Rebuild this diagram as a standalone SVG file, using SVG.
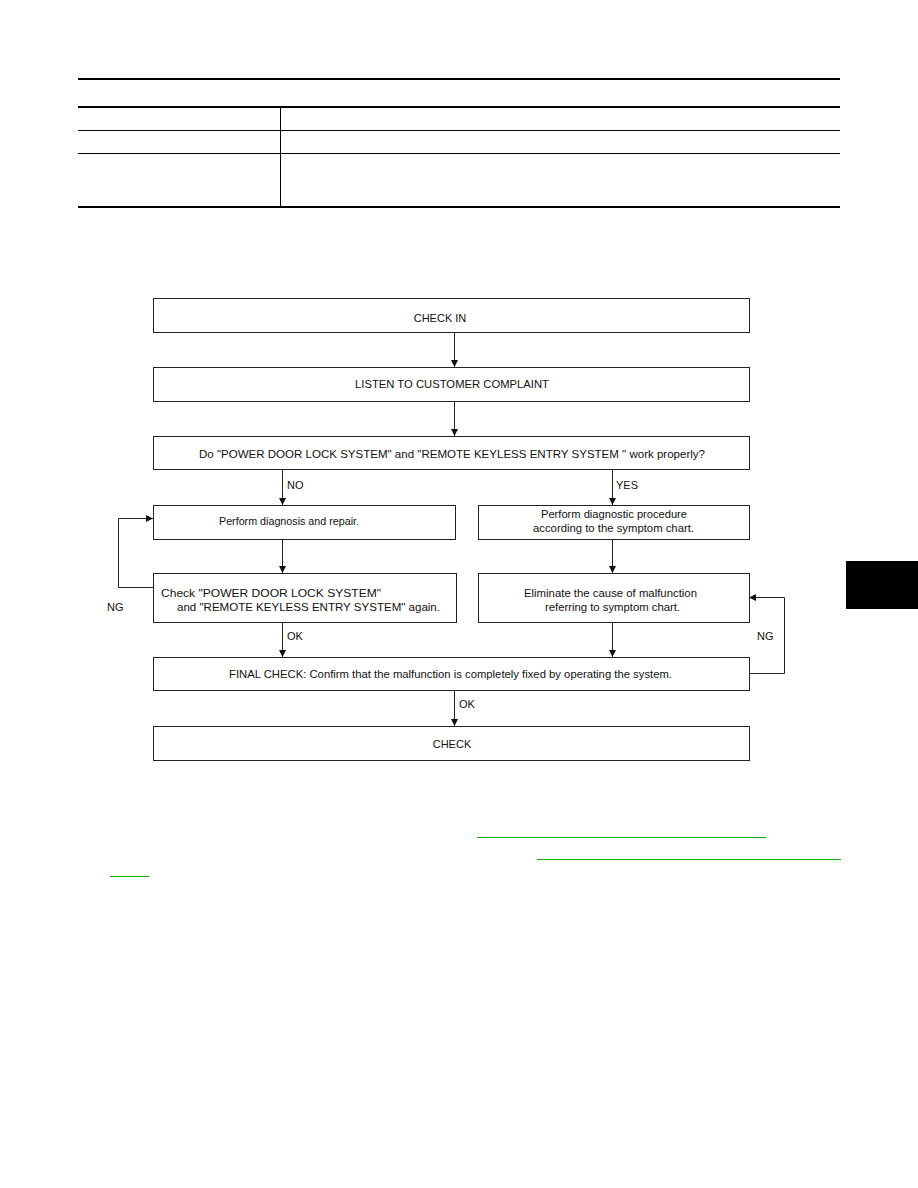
<svg xmlns="http://www.w3.org/2000/svg" width="918" height="1188" viewBox="0 0 918 1188">
<style>
.box{fill:#fff;stroke:#222;stroke-width:1}
.t{font-family:"Liberation Sans",Arial,sans-serif;font-size:11px;fill:#111}
.c{text-anchor:middle}
.ln{fill:none;stroke:#222;stroke-width:1}
.g{stroke:#00b000;stroke-width:1.2}
</style>
<defs>
<marker id="ah" viewBox="0 0 10 10" refX="10" refY="5" markerWidth="7" markerHeight="9" markerUnits="userSpaceOnUse" orient="auto">
<path d="M0,0 L10,5 L0,10 z" fill="#111"/>
</marker>
</defs>
<g id="table">
<line x1="78" y1="79" x2="840" y2="79" stroke="#000" stroke-width="2"/>
<line x1="78" y1="107" x2="840" y2="107" stroke="#000" stroke-width="2"/>
<line x1="78" y1="130.5" x2="840" y2="130.5" stroke="#000" stroke-width="1"/>
<line x1="78" y1="153.5" x2="840" y2="153.5" stroke="#000" stroke-width="1"/>
<line x1="78" y1="207" x2="840" y2="207" stroke="#000" stroke-width="2"/>
<line x1="280.5" y1="107" x2="280.5" y2="207" stroke="#000" stroke-width="1"/>
</g>
<g id="connectors">
<line class="ln" x1="454.5" y1="332" x2="454.5" y2="367" marker-end="url(#ah)"/>
<line class="ln" x1="454.5" y1="401" x2="454.5" y2="436" marker-end="url(#ah)"/>
<line class="ln" x1="282.5" y1="469" x2="282.5" y2="505" marker-end="url(#ah)"/>
<line class="ln" x1="612.5" y1="469" x2="612.5" y2="505" marker-end="url(#ah)"/>
<line class="ln" x1="282.5" y1="539" x2="282.5" y2="573" marker-end="url(#ah)"/>
<line class="ln" x1="612.5" y1="539" x2="612.5" y2="573" marker-end="url(#ah)"/>
<line class="ln" x1="282.5" y1="622" x2="282.5" y2="657" marker-end="url(#ah)"/>
<line class="ln" x1="612.5" y1="622" x2="612.5" y2="657" marker-end="url(#ah)"/>
<line class="ln" x1="454.5" y1="690" x2="454.5" y2="726" marker-end="url(#ah)"/>
<polyline class="ln" points="153,587.5 118.5,587.5 118.5,518.5 153,518.5" marker-end="url(#ah)"/>
<polyline class="ln" points="749,673.5 784.5,673.5 784.5,597.5 749,597.5" marker-end="url(#ah)"/>
<text class="t" x="287" y="489">NO</text>
<text class="t" x="616" y="489">YES</text>
<text class="t" x="107" y="611">NG</text>
<text class="t" x="287" y="640">OK</text>
<text class="t" x="757" y="640">NG</text>
<text class="t" x="459" y="708">OK</text>
</g>
<g id="n1"><rect class="box" x="153.5" y="298.5" width="596" height="34"/><text class="t c" x="440" y="322">CHECK IN</text></g>
<g id="n2"><rect class="box" x="153.5" y="367.5" width="596" height="34"/><text class="t c" x="452" y="388" textLength="194" lengthAdjust="spacingAndGlyphs">LISTEN TO CUSTOMER COMPLAINT</text></g>
<g id="n3"><rect class="box" x="153.5" y="436.5" width="596" height="33"/><text class="t" x="199" y="458" textLength="506" lengthAdjust="spacingAndGlyphs">Do "POWER DOOR LOCK SYSTEM" and "REMOTE  KEYLESS  ENTRY  SYSTEM " work properly?</text></g>
<g id="n4"><rect class="box" x="153.5" y="505.5" width="302" height="34"/><text class="t" x="219" y="525" textLength="140" lengthAdjust="spacingAndGlyphs">Perform diagnosis and repair.</text></g>
<g id="n5"><rect class="box" x="478.5" y="505.5" width="271" height="34"/><text class="t c" x="614" y="518" textLength="146" lengthAdjust="spacingAndGlyphs">Perform diagnostic procedure</text><text class="t c" x="613.5" y="532" textLength="161" lengthAdjust="spacingAndGlyphs">according to the symptom chart.</text></g>
<g id="n6"><rect class="box" x="153.5" y="573.5" width="303" height="49"/><text class="t" x="161" y="597" textLength="220" lengthAdjust="spacingAndGlyphs">Check "POWER DOOR LOCK SYSTEM"</text><text class="t" x="177" y="611" textLength="263" lengthAdjust="spacingAndGlyphs">and "REMOTE  KEYLESS  ENTRY  SYSTEM" again.</text></g>
<g id="n7"><rect class="box" x="478.5" y="573.5" width="271" height="49"/><text class="t c" x="610.5" y="597" textLength="173" lengthAdjust="spacingAndGlyphs">Eliminate the cause of malfunction</text><text class="t c" x="612.5" y="611" textLength="135" lengthAdjust="spacingAndGlyphs">referring to symptom chart.</text></g>
<g id="n8"><rect class="box" x="153.5" y="657.5" width="596" height="33"/><text class="t" x="229" y="678" textLength="443" lengthAdjust="spacingAndGlyphs">FINAL CHECK: Confirm that the malfunction is completely fixed by operating the system.</text></g>
<g id="n9"><rect class="box" x="153.5" y="726.5" width="596" height="34"/><text class="t c" x="452" y="748">CHECK</text></g>
<g id="tab"><rect x="846" y="561" width="72" height="48" fill="#000"/></g>
<g id="links">
<line class="g" x1="477" y1="837.5" x2="766" y2="837.5"/>
<line class="g" x1="537" y1="859.5" x2="841" y2="859.5"/>
<line class="g" x1="110" y1="876.5" x2="149" y2="876.5"/>
</g>
</svg>
